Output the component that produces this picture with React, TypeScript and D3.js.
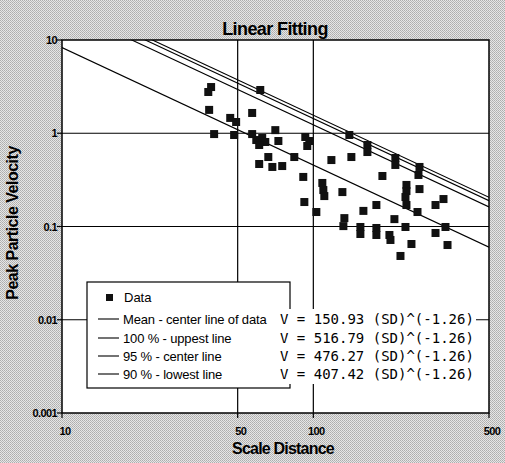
import React from "react";
import * as d3 from "d3";

// scanned data points: scale distance (SD) vs peak particle velocity (V)
const dataSD = [
  39.2, 38.2, 61.5, 38.5, 46.7, 49.3, 57.1, 40.3, 48.4, 57.1, 70.6, 59.3, 62.6, 64.4, 60.9, 72.6,
  92.9, 96.4, 94.6, 66.2, 84.0, 60.9, 68.7, 75.2, 91.2, 139.1, 164.1, 164.1, 118, 141.7, 212, 212,
  264.5, 262, 188.3, 108.6, 109.6, 110.6, 130.5, 234.7, 234.7, 232.6, 234.7, 264.5, 92.1, 102.8,
  178.2, 158.2, 210.2, 259.7, 306.3, 329.5, 132.9, 131.7, 153.9, 153.9, 178.2, 178.2, 200.8, 202.7,
  232.6, 306.3, 335.6, 245.7, 341.9, 222.2,
];
const dataV = [
  3.13, 2.77, 2.91, 1.78, 1.46, 1.32, 1.65, 0.98, 0.958, 0.98, 1.08, 0.846, 0.889, 0.806, 0.748, 0.826,
  0.912, 0.826, 0.73, 0.556, 0.556, 0.468, 0.435, 0.445, 0.34, 0.958, 0.748, 0.629, 0.516, 0.556, 0.543, 0.457,
  0.435, 0.357, 0.348, 0.293, 0.246, 0.212, 0.234, 0.279, 0.24, 0.207, 0.17, 0.252, 0.183, 0.143,
  0.17, 0.147, 0.12, 0.143, 0.17, 0.197, 0.123, 0.101, 0.0988, 0.0831, 0.0964, 0.0811, 0.0811, 0.0717,
  0.0988, 0.0852, 0.0988, 0.0649, 0.0633, 0.0483,
];

// fitted lines V = K * SD^(-1.26)
const fitLabels = ["Mean - center line of data", "100 % - uppest line", "95 % - center line", "90 % - lowest line"];
const fitK = [150.93, 516.79, 476.27, 407.42];
const fitExp = -1.26;
const fitText = [
  "V = 150.93 (SD)^(-1.26)",
  "V = 516.79 (SD)^(-1.26)",
  "V = 476.27 (SD)^(-1.26)",
  "V = 407.42 (SD)^(-1.26)",
];

const xTicks = [10, 50, 100, 500];
const yTicks = [10, 1, 0.1, 0.01, 0.001];
const xGrid = [50, 100];
const yGrid = [1, 0.1, 0.01];

const W = 505;
const H = 463;
const left = 62, right = 489, top = 40, bottom = 413;

const App = () => {
  const x = d3.scaleLog().domain([10, 500]).range([left, right]);
  const y = d3.scaleLog().domain([0.001, 10]).range([bottom, top]);
  const fitPath = (k: number) =>
    d3
      .line<[number, number]>()
      .x((d) => x(d[0]))
      .y((d) => y(d[1]))(x.domain().map((sd) => [sd, k * Math.pow(sd, fitExp)] as [number, number]));
  const font = "'Liberation Sans', Arial, sans-serif";
  const legTop = 282;
  const rowY = [297, 319, 338, 356, 374];

  return (
    <svg width={W} height={H} style={{ position: "absolute", left: 0, top: 0 }} fontFamily={font}>
      <defs>
        <pattern id="dither" width="2" height="2" patternUnits="userSpaceOnUse">
          <rect width="2" height="2" fill="#e6e6e6" />
          <rect x="0" y="0" width="1" height="1" fill="#adadad" />
          <rect x="1" y="1" width="1" height="1" fill="#b8b8b8" />
        </pattern>
        <clipPath id="plot">
          <rect x={left} y={top} width={right - left} height={bottom - top} />
        </clipPath>
      </defs>
      <rect width={W} height={H} fill="url(#dither)" />
      <rect x={left} y={top} width={right - left} height={bottom - top} fill="#fff" />

      {/* grid */}
      {xGrid.map((v) => (
        <line key={"gx" + v} x1={x(v)} x2={x(v)} y1={top} y2={bottom} stroke="#000" strokeWidth={1.2} />
      ))}
      {yGrid.map((v) => (
        <line key={"gy" + v} x1={left} x2={right} y1={y(v)} y2={y(v)} stroke="#000" strokeWidth={1.2} />
      ))}

      {/* fitted lines + data */}
      <g clipPath="url(#plot)">
        {fitK.map((k) => (
          <path key={k} d={fitPath(k) || ""} fill="none" stroke="#000" strokeWidth={1.1} />
        ))}
        {dataSD.map((sd, i) => (
          <rect key={i} x={x(sd) - 4} y={y(dataV[i]) - 4} width={8} height={8} fill="#111" />
        ))}
      </g>

      <rect x={left} y={top} width={right - left} height={bottom - top} fill="none" stroke="#000" strokeWidth={1.5} />

      {/* axes ticks + labels */}
      {yTicks.map((v) => (
        <g key={"yt" + v}>
          <line x1={left - 5} x2={left} y1={y(v)} y2={y(v)} stroke="#000" strokeWidth={1.2} />
          <text x={left - 5} y={y(v) + 4} textAnchor="end" fontSize={11} fontWeight="bold" letterSpacing={-0.6}>
            {v}
          </text>
        </g>
      ))}
      {xTicks.map((v) => (
        <g key={"xt" + v}>
          <line x1={x(v)} x2={x(v)} y1={bottom} y2={bottom + 5} stroke="#000" strokeWidth={1.2} />
          <text x={x(v) + 3} y={bottom + 22} textAnchor="middle" fontSize={11} fontWeight="bold" letterSpacing={-0.6}>
            {v}
          </text>
        </g>
      ))}

      <text x={275} y={35} textAnchor="middle" fontSize={18} fontWeight="bold" letterSpacing={-0.6}>
        Linear Fitting
      </text>
      <text x={283} y={454} textAnchor="middle" fontSize={16} fontWeight="bold" letterSpacing={-0.8}>
        Scale Distance
      </text>
      <text
        transform={`translate(18, ${223}) rotate(-90)`}
        textAnchor="middle"
        fontSize={16}
        fontWeight="bold"
        letterSpacing={-0.5}
      >
        Peak Particle Velocity
      </text>

      {/* legend */}
      <rect x={87} y={legTop} width={203} height={106} fill="#fff" stroke="#000" strokeWidth={1.2} />
      <rect x={106} y={rowY[0] - 3} width={7} height={7} fill="#111" />
      <text x={124} y={rowY[0] + 5} fontSize={13}>
        Data
      </text>
      {fitLabels.map((lab, i) => (
        <g key={lab}>
          <line x1={98} x2={119} y1={rowY[i + 1]} y2={rowY[i + 1]} stroke="#000" strokeWidth={1.1} />
          <text x={123} y={rowY[i + 1] + 5} fontSize={13} letterSpacing={-0.15}>
            {lab}
          </text>
        </g>
      ))}
      <rect x={278} y={309} width={198} height={75} fill="#fff" />
      {fitText.map((t, i) => (
        <text
          key={t}
          x={280}
          y={rowY[i + 1] + 5}
          fontSize={14}
          fontFamily="'DejaVu Sans Mono', monospace"
          xmlSpace="preserve"
        >
          {t}
        </text>
      ))}
    </svg>
  );
};

export default App;
